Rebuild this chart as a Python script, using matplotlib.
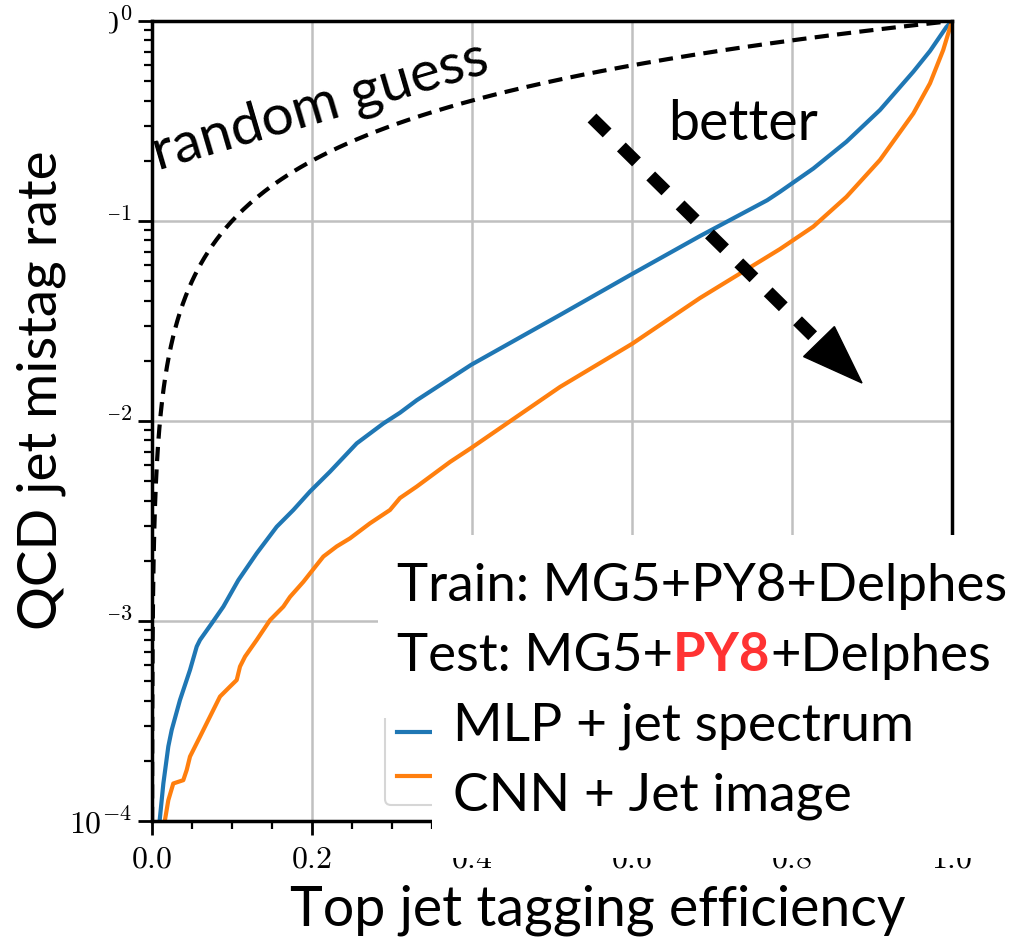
import matplotlib
matplotlib.use("Agg")
import matplotlib.pyplot as plt
import numpy as np
from matplotlib.patches import Rectangle, Polygon
from matplotlib.ticker import FixedLocator, FixedFormatter, LogLocator, MultipleLocator, NullFormatter

# ROC curves: top-jet tagging efficiency vs QCD mistag rate
mlp_eff = [0.0095, 0.0142, 0.0204, 0.0246, 0.035, 0.0475, 0.0559, 0.060, 0.0746, 0.0892,
           0.1079, 0.1309, 0.1559, 0.1767, 0.1975, 0.2225, 0.2559, 0.2892, 0.310, 0.3309,
           0.399, 0.510, 0.600, 0.685, 0.769, 0.785, 0.8267, 0.868, 0.910, 0.9517,
           0.9725, 0.993, 1.0]
mlp_mistag = [1.00e-4, 1.54e-4, 2.36e-4, 2.85e-4, 4.03e-4, 5.69e-4, 7.45e-4, 8.04e-4,
              9.72e-4, 1.18e-3, 1.60e-3, 2.18e-3, 2.96e-3, 3.59e-3, 4.44e-3, 5.58e-3,
              7.73e-3, 9.72e-3, 1.10e-2, 1.27e-2, 1.91e-2, 3.39e-2, 5.43e-2, 8.41e-2,
              0.127, 0.140, 0.183, 0.249, 0.359, 0.558, 0.708, 0.933, 1.0]

cnn_eff = [0.0160, 0.0204, 0.0266, 0.0391, 0.0434, 0.0475, 0.060, 0.0704, 0.085, 0.0975,
           0.1059, 0.110, 0.1163, 0.1309, 0.1475, 0.1642, 0.1725, 0.1892, 0.1975, 0.2142,
           0.2309, 0.2475, 0.2725, 0.2975, 0.310, 0.3309, 0.3725, 0.399, 0.510, 0.600,
           0.685, 0.785, 0.8267, 0.868, 0.910, 0.9517, 0.9725, 0.989, 1.0]
cnn_mistag = [1.00e-4, 1.27e-4, 1.54e-4, 1.60e-4, 1.80e-4, 2.10e-4, 2.64e-4, 3.20e-4,
              4.19e-4, 4.70e-4, 5.07e-4, 5.92e-4, 6.64e-4, 8.04e-4, 1.01e-3, 1.18e-3,
              1.32e-3, 1.57e-3, 1.73e-3, 2.10e-3, 2.36e-3, 2.59e-3, 3.08e-3, 3.59e-3,
              4.12e-3, 4.70e-3, 6.24e-3, 7.33e-3, 1.48e-2, 2.43e-2, 4.12e-2, 7.24e-2,
              9.38e-2, 0.132, 0.202, 0.345, 0.488, 0.716, 1.0]

series_labels = ["MLP + jet spectrum", "CNN + Jet image"]
series_colors = ["#1f77b4", "#ff7f0e"]

x_ticks = [0.0, 0.2, 0.4, 0.6, 0.8, 1.0]
x_tick_labels = ["$0.0$", "$0.2$", "$0.4$", "$0.6$", "$0.8$", "$1.0$"]
y_ticks = [1e-4, 1e-3, 1e-2, 1e-1, 1e0]
y_tick_labels = ["$10^{-4}$", "$10^{-3}$", "$10^{-2}$", "$10^{-1}$", "$10^{0}$"]

W, H = 1021, 949
plt.rcParams["mathtext.fontset"] = "cm"
fig = plt.figure(figsize=(W / 100, H / 100), dpi=100)


def fx(px):
    return px / W


def fy(py):
    return 1 - py / H


ax = fig.add_axes([fx(152), fy(821), fx(952) - fx(152), fy(21) - fy(821)])
ax.set_yscale("log")
ax.set_xlim(0, 1)
ax.set_ylim(1e-4, 1)

# random guess: mistag rate equals efficiency
rg = np.geomspace(1e-4, 1, 400)
ax.plot(rg, rg, color="black", lw=3.0, dashes=(3.4, 2.0), zorder=3)

ax.plot(mlp_eff, mlp_mistag, color=series_colors[0], lw=3.0, label=series_labels[0], zorder=2)
ax.plot(cnn_eff, cnn_mistag, color=series_colors[1], lw=3.0, label=series_labels[1], zorder=2)

ax.xaxis.set_major_locator(FixedLocator(x_ticks))
ax.xaxis.set_major_formatter(FixedFormatter(x_tick_labels))
ax.xaxis.set_minor_locator(MultipleLocator(0.05))
ax.yaxis.set_major_locator(FixedLocator(y_ticks))
ax.yaxis.set_major_formatter(FixedFormatter(y_tick_labels))
ax.yaxis.set_minor_locator(LogLocator(base=10, subs=np.arange(2, 10)))
ax.yaxis.set_minor_formatter(NullFormatter())

ax.tick_params(which="major", length=10, width=2, labelsize=23, direction="out")
ax.tick_params(axis="y", which="major", pad=4)
ax.tick_params(axis="x", which="major", pad=6)
ax.tick_params(which="minor", length=6, width=1.6, direction="out")
for s in ax.spines.values():
    s.set_linewidth(2.5)
    s.set_color("black")
ax.grid(True, which="major", color="#c0c0c0", lw=1.8)
ax.set_axisbelow(True)

# legend box with line keys only; its text sits in the annotation panel
leg = ax.legend(loc="lower left", bbox_to_anchor=(0.291, 0.02), borderaxespad=0,
                fontsize=22, frameon=True, fancybox=True, handlelength=2.0)
leg.get_frame().set_edgecolor("#cccccc")
leg.get_frame().set_linewidth(1.5)
for t in leg.get_texts():
    t.set_visible(False)

# dashed "better" arrow
ax.plot([0.55, 0.8325], [0.87875, 0.60], transform=ax.transAxes, color="black",
        lw=9.0, dashes=(1.7, 1.6), solid_capstyle="butt", dash_capstyle="butt", zorder=5)
ax.add_patch(Polygon([[0.8145, 0.5805], [0.853, 0.618], [0.8875, 0.5475]],
                     closed=True, transform=ax.transAxes, color="black", zorder=5))

# white panels behind the annotation text
panels = [(0, 0, 109, 803), (378, 535, W, 718), (432, 718, W, 858)]
for x0, y0, x1, y1 in panels:
    fig.add_artist(Rectangle((fx(x0), fy(y1)), fx(x1) - fx(x0), fy(y0) - fy(y1),
                             transform=fig.transFigure, facecolor="white",
                             edgecolor="none", zorder=2))

font = "Lato"
fig.text(fx(158), fy(170), "random guess", fontsize=41, family=font, rotation=16.4,
         rotation_mode="anchor", ha="left", va="baseline", zorder=4)
fig.text(fx(668), fy(140), "better", fontsize=40, family=font, ha="left", va="baseline", zorder=4)

fig.text(fx(397), fy(601), "Train: MG5+PY8+Delphes", fontsize=38, family=font,
         ha="left", va="baseline", zorder=4)
t1 = fig.text(fx(397), fy(671), "Test: MG5+", fontsize=38, family=font,
              ha="left", va="baseline", zorder=4)
fig.canvas.draw()
r = fig.canvas.get_renderer()
bb = t1.get_window_extent(r)
t2 = fig.text(bb.x1 / W, fy(671), "PY8", fontsize=38, family=font, weight="bold",
              color="#ff3333", ha="left", va="baseline", zorder=4)
bb2 = t2.get_window_extent(r)
fig.text(bb2.x1 / W, fy(671), "+Delphes", fontsize=38, family=font,
         ha="left", va="baseline", zorder=4)

fig.text(fx(453), fy(741), series_labels[0], fontsize=38.5, family=font,
         ha="left", va="baseline", zorder=4)
fig.text(fx(453), fy(811), series_labels[1], fontsize=38.5, family=font,
         ha="left", va="baseline", zorder=4)

fig.text(fx(290), fy(926), "Top jet tagging efficiency", fontsize=40, family=font,
         ha="left", va="baseline", zorder=4)
fig.text(fx(57), fy(630), "QCD jet mistag rate", fontsize=39.5, family=font, rotation=90,
         rotation_mode="anchor", ha="left", va="baseline", zorder=4)

fig.savefig("out.png", dpi=100)
